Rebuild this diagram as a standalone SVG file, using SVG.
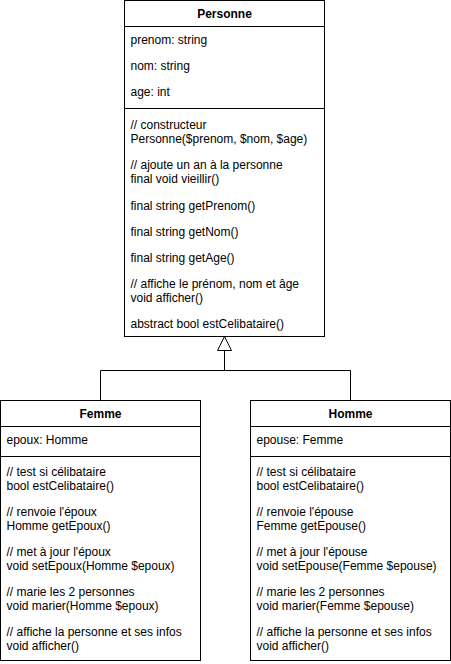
<svg xmlns="http://www.w3.org/2000/svg" width="451" height="664" viewBox="0 0 451 664">
<defs>
<style>
.box{fill:#fff;stroke:#000;stroke-width:1}
.sep{stroke:#000;stroke-width:1;fill:none}
.t{font-family:"Liberation Sans",Arial,Helvetica,sans-serif;font-size:12px;fill:#000}
.h{font-family:"Liberation Sans",Arial,Helvetica,sans-serif;font-size:12px;font-weight:bold;fill:#000;text-anchor:middle}
.edge{fill:none;stroke:#000;stroke-width:1}
</style>
<marker id="inh" viewBox="0 0 16 16" refX="15" refY="8" markerWidth="16" markerHeight="16" markerUnits="userSpaceOnUse" orient="auto">
<path d="M1,1 L15,8 L1,15 Z" fill="#fff" stroke="#000" stroke-width="1"/>
</marker>
</defs>
<rect width="451" height="664" fill="#fff"/>
<g id="connectors">
<path class="edge" d="M100.5,400.5 V370.5 H224.5 V336.5" marker-end="url(#inh)"/>
<path class="edge" d="M350.5,400.5 V370.5 H224.5"/>
</g>
<g id="Personne">
<rect class="box" x="124.5" y="0.5" width="200" height="336"/>
<line class="sep" x1="124.5" y1="26.5" x2="324.5" y2="26.5"/>
<line class="sep" x1="124.5" y1="108.5" x2="324.5" y2="108.5"/>
<text class="h" x="224.5" y="18">Personne</text>
<text class="t" x="130.5" y="44">prenom: string</text>
<text class="t" x="130.5" y="70">nom: string</text>
<text class="t" x="130.5" y="96">age: int</text>
<text class="t" x="130.5" y="129">// constructeur</text>
<text class="t" x="130.5" y="143.4">Personne($prenom, $nom, $age)</text>
<text class="t" x="130.5" y="169">// ajoute un an à la personne</text>
<text class="t" x="130.5" y="183.4">final void vieillir()</text>
<text class="t" x="130.5" y="210">final string getPrenom()</text>
<text class="t" x="130.5" y="236">final string getNom()</text>
<text class="t" x="130.5" y="262">final string getAge()</text>
<text class="t" x="130.5" y="288">// affiche le prénom, nom et âge</text>
<text class="t" x="130.5" y="302.4">void afficher()</text>
<text class="t" x="130.5" y="328">abstract bool estCelibataire()</text>
</g>
<g id="Femme">
<rect class="box" x="0.5" y="400.5" width="200" height="260"/>
<line class="sep" x1="0.5" y1="426.5" x2="200.5" y2="426.5"/>
<line class="sep" x1="0.5" y1="456.5" x2="200.5" y2="456.5"/>
<text class="h" x="100.5" y="418">Femme</text>
<text class="t" x="6.5" y="444">epoux: Homme</text>
<text class="t" x="6.5" y="476">// test si célibataire</text>
<text class="t" x="6.5" y="490.4">bool estCelibataire()</text>
<text class="t" x="6.5" y="516">// renvoie l'époux</text>
<text class="t" x="6.5" y="530.4">Homme getEpoux()</text>
<text class="t" x="6.5" y="556">// met à jour l'époux</text>
<text class="t" x="6.5" y="570.4">void setEpoux(Homme $epoux)</text>
<text class="t" x="6.5" y="596">// marie les 2 personnes</text>
<text class="t" x="6.5" y="610.4">void marier(Homme $epoux)</text>
<text class="t" x="6.5" y="636">// affiche la personne et ses infos</text>
<text class="t" x="6.5" y="650.4">void afficher()</text>
</g>
<g id="Homme">
<rect class="box" x="250.5" y="400.5" width="200" height="260"/>
<line class="sep" x1="250.5" y1="426.5" x2="450.5" y2="426.5"/>
<line class="sep" x1="250.5" y1="456.5" x2="450.5" y2="456.5"/>
<text class="h" x="350.5" y="418">Homme</text>
<text class="t" x="256.5" y="444">epouse: Femme</text>
<text class="t" x="256.5" y="476">// test si célibataire</text>
<text class="t" x="256.5" y="490.4">bool estCelibataire()</text>
<text class="t" x="256.5" y="516">// renvoie l'épouse</text>
<text class="t" x="256.5" y="530.4">Femme getEpouse()</text>
<text class="t" x="256.5" y="556">// met à jour l'épouse</text>
<text class="t" x="256.5" y="570.4">void setEpouse(Femme $epouse)</text>
<text class="t" x="256.5" y="596">// marie les 2 personnes</text>
<text class="t" x="256.5" y="610.4">void marier(Femme $epouse)</text>
<text class="t" x="256.5" y="636">// affiche la personne et ses infos</text>
<text class="t" x="256.5" y="650.4">void afficher()</text>
</g>
</svg>
